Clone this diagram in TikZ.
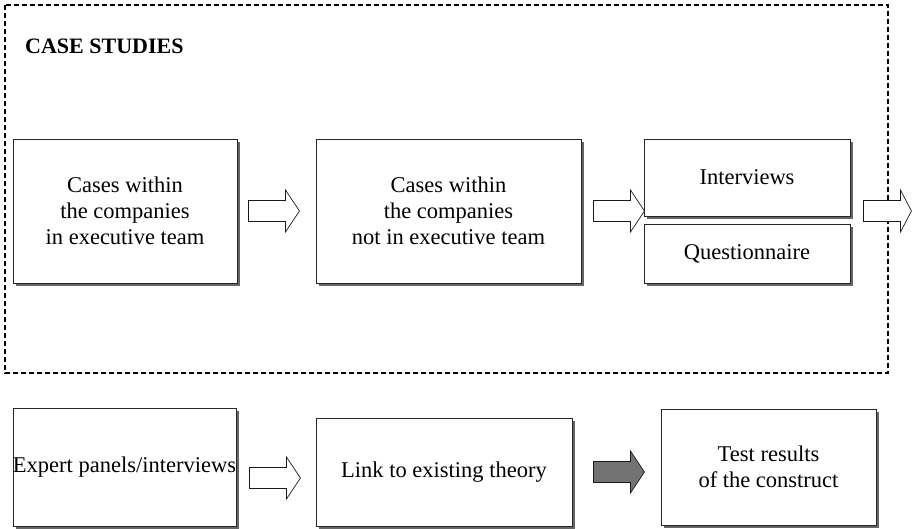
\documentclass[tikz,border=0pt]{standalone}
\usepackage{fontspec}
\setmainfont{Liberation Serif}
\usetikzlibrary{shadows,calc}

\tikzset{
  stagebox/.style={draw=black!85, line width=0.9pt, fill=white, rectangle,
    inner sep=0pt, align=center,
    font=\fontsize{22.5}{26}\selectfont,
    drop shadow={shadow xshift=3pt, shadow yshift=-3pt, fill=black!60, opacity=1}},
  regionframe/.style={draw=black, line width=1.4pt, dash pattern=on 5pt off 3pt},
  hollowarrow/.style={draw=black!90, line width=0.7pt, fill=white},
  solidarrow/.style={draw=black!90, line width=0.7pt, fill=black!55},
  blockarrow/.pic={
    \path[pic actions] (0,-10.5) -- (37,-10.5) -- (37,-21) -- (51,0)
      -- (37,21) -- (37,10.5) -- (0,10.5) -- cycle;
  },
  shortarrow/.pic={
    \path[pic actions] (0,-10.5) -- (37,-10.5) -- (37,-21) -- (48,0)
      -- (37,21) -- (37,10.5) -- (0,10.5) -- cycle;
  }
}

\begin{document}
\begin{tikzpicture}[x=1pt, y=-1pt]
  \useasboundingbox (0,0) rectangle (912,528);

  % case-study region
  \draw[regionframe] (5,5) rectangle (888,373);
  \node[anchor=base west, inner sep=0pt, font=\fontsize{22}{26}\selectfont\bfseries]
    (title) at (25,53) {CASE STUDIES};

  % upper row
  \node[stagebox, minimum width=224pt, minimum height=144pt] (c1) at (125,211)
    {Cases within\\the companies\\in executive team};
  \node[stagebox, minimum width=265pt, minimum height=144pt] (c2) at (448.5,211)
    {Cases within\\the companies\\not in executive team};
  \node[stagebox, minimum width=206pt, minimum height=77pt] (iv) at (747,177.5)
    {Interviews};
  \node[stagebox, minimum width=206pt, minimum height=59pt] (qn) at (747,253.5)
    {Questionnaire};

  \pic[hollowarrow] at ($(c1.east)+(11,0)$) {blockarrow};
  \pic[hollowarrow] at ($(c2.east)+(12,0)$) {blockarrow};
  \pic[hollowarrow] at ($(iv.east)+(13,33.5)$) {shortarrow};

  % lower row
  \node[stagebox, minimum width=223pt, minimum height=118pt] (ep) at (124.5,467)
    {Expert panels/interviews};
  \node[stagebox, minimum width=256pt, minimum height=108pt] (lk) at (444,472)
    {Link to existing theory};
  \node[stagebox, minimum width=215pt, minimum height=116pt] (tr) at (768.5,467)
    {Test results\\of the construct};

  \pic[hollowarrow] at ($(ep.east)+(13,11)$) {blockarrow};
  \pic[solidarrow] at ($(lk.east)+(21,0)$) {blockarrow};
\end{tikzpicture}
\end{document}
